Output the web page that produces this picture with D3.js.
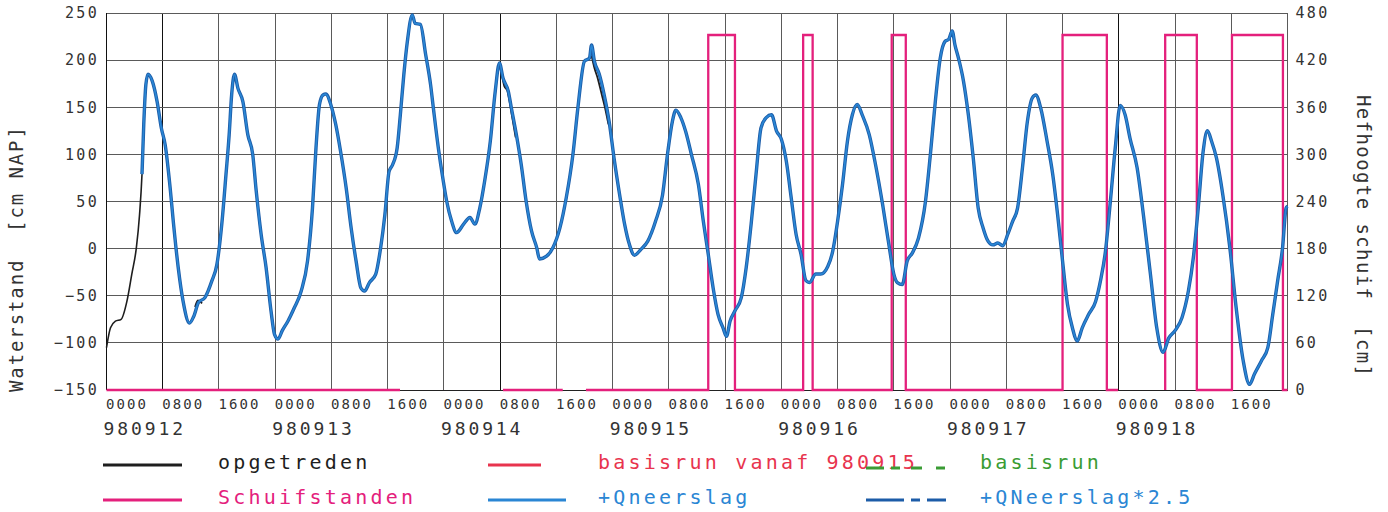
<!DOCTYPE html>
<html>
<head>
<meta charset="utf-8">
<script src="https://cdn.jsdelivr.net/npm/d3@7"></script>
<style>
  body { margin: 0; background: #fff; }
  text { font-family: "DejaVu Sans Mono", monospace; }
</style>
</head>
<body>
<div id="chart"></div>
<script>
// Waterstand + schuifstanden, 980912 - 980918

// tijd in uren vanaf 980912 0000
const dagLabels = ["980912", "980913", "980914", "980915", "980916", "980917", "980918"];
const uurTicks = d3.range(0, 168, 8);
const waterTicks = d3.range(-150, 251, 50);
const schuifTicks = d3.range(0, 481, 60);
const donkereLijnen = [0, 8, 56, 144];

// opgetreden waterstand [cm NAP]
const waterstand = [
  [0,-105],[0.57,-84],[1.27,-77],[2.08,-75],[2.9,-56],[3.6,-27],[4.25,1],[4.7,36],[5.05,79],
  [5.3,132],[5.6,174],[5.9,185],[6.5,178],[7.2,156],[7.8,128],[8.35,110],[9.06,64],[9.5,29],
  [10.2,-20],[10.9,-56],[11.8,-79],[12.4,-72],[13.1,-57],[14.0,-52],[15.0,-34],[15.7,-17],
  [16.4,26],[17.0,79],[17.45,121],[17.8,163],[18.2,185],[18.7,170],[19.4,156],[20.1,121],
  [20.8,100],[21.3,61],[22.0,15],[22.7,-20],[23.4,-66],[23.9,-91],[24.4,-96],[25.0,-87],
  [25.8,-77],[26.7,-63],[27.7,-45],[28.6,-13],[29.3,43],[29.8,107],[30.3,153],[30.8,163],
  [31.2,164],[31.9,153],[32.6,132],[33.3,103],[34.1,64],[34.8,22],[35.5,-13],[36.2,-42],
  [36.7,-45],[37.4,-36],[38.3,-27],[39.0,1],[39.6,36],[40.2,82],[40.7,89],[41.35,107],
  [41.8,142],[42.3,185],[42.8,220],[43.5,248],[43.9,239],[44.65,238],[45.4,206],[46.1,174],
  [46.5,149],[47.2,107],[47.9,72],[48.4,50],[49.1,29],[49.8,17],[50.8,26],[51.7,33],
  [52.4,26],[53.1,43],[53.8,72],[54.6,114],[55.3,167],[55.9,197],[56.4,181],[57.15,167],
  [57.6,149],[58.3,121],[59.0,89],[59.7,50],[60.45,19],[61.2,1],[61.6,-11],[62.6,-8],
  [63.5,1],[64.5,22],[65.4,54],[66.35,100],[67.05,149],[68.0,199],[68.7,202],[69.0,216],
  [69.4,199],[70.1,185],[70.8,163],[71.5,135],[72.2,96],[73.0,57],[73.7,26],[74.4,4],
  [75.1,-7],[76.0,-1],[77.0,8],[78.1,29],[79.1,57],[79.8,100],[80.5,135],[81.0,147],
  [81.7,139],[82.4,124],[83.2,100],[84.2,68],[84.9,29],[85.6,-6],[86.3,-42],[87.0,-70],
  [87.7,-84],[88.2,-93],[88.7,-77],[89.4,-66],[90.3,-52],[91.0,-20],[91.7,26],[92.4,79],
  [93.1,128],[93.85,139],[94.6,142],[95.3,125],[96.0,116],[96.7,93],[97.4,54],[98.1,15],
  [98.8,-6],[99.5,-34],[100.0,-36],[100.9,-27],[101.6,-27],[102.6,-19],[103.3,-3],[104.0,29],
  [104.7,68],[105.4,114],[106.1,142],[106.8,153],[107.5,142],[108.5,121],[109.4,89],[110.4,47],
  [111.3,4],[112.0,-27],[112.5,-36],[113.2,-38],[113.9,-13],[114.6,-5],[115.5,11],[116.5,50],
  [117.2,100],[117.9,156],[118.6,202],[119.3,220],[119.8,222],[120.3,231],[120.7,216],[121.2,202],
  [121.9,178],[122.6,142],[123.3,96],[124.0,43],[124.7,22],[125.4,8],[126.1,4],[126.8,6],
  [127.5,3],[128.2,15],[128.9,29],[129.6,43],[130.3,86],[131.0,135],[131.7,160],[132.2,163],
  [132.9,149],[133.8,114],[134.6,79],[135.3,36],[136.0,-13],[136.7,-59],[137.4,-84],[138.1,-98],
  [138.8,-84],[139.7,-70],[140.7,-56],[141.4,-34],[142.1,-3],[142.8,50],[143.5,107],[144.2,152],
  [144.9,142],[145.6,117],[146.6,86],[147.5,36],[148.5,-27],[149.4,-84],[150.3,-110],[151.1,-95],
  [152.0,-87],[153.0,-73],[153.9,-45],[154.6,-10],[155.3,43],[156.0,103],[156.6,125],[157.2,114],
  [157.9,96],[158.8,57],[159.8,1],[160.7,-63],[161.7,-119],[162.6,-144],[163.3,-133],[164.3,-119],
  [165.2,-105],[165.9,-70],[166.6,-34],[167.3,1],[167.8,43],[168,45]
];

// stukjes waar de opgetreden lijn naast de modellijn zichtbaar is
const opgetredenAfwijking = [
  [[12.6,-62],[13.0,-55],[13.6,-58]],
  [[56.2,188],[56.6,172],[57.0,168],[57.3,158],[57.7,140],[58.2,118]],
  [[69.0,205],[69.4,192],[69.9,180],[70.4,165],[70.9,150],[71.4,132]]
];

// Schuifstanden, hefhoogte [cm], null = geen gegevens
const schuifstand = [
  [0,0],[41.75,0],[48,null],[56.4,0],[64.9,0],[66,null],[68.2,0],[85.6,0],[85.6,452],[89.4,452],
  [89.4,0],[99.1,0],[99.1,452],[100.45,452],[100.45,0],[111.7,0],[111.7,452],[113.7,452],
  [113.7,0],[136.0,0],[136.0,452],[142.3,452],[142.3,0],[143.9,0],[147,null],[150.6,0],
  [150.6,452],[155.1,452],[155.1,0],[160.1,0],[160.1,452],[167.35,452],[167.35,0],[168,0]
];

const width = 1388, height = 512;
const plot = {left: 106.5, right: 1287.5, top: 13, bottom: 390};

const colBlack = "#1e1e1e";
const colSchuif = "#e4207c";
const colBlue = "#2a86d4";
const colDarkBlue = "#1c5ca8";
const colRed = "#e8344e";
const colGreen = "#3a9c34";
const colGrid = "#5a5a5a";
const colText = "#333";

const svg = d3.select("#chart").append("svg")
  .attr("width", width)
  .attr("height", height);

svg.append("rect").attr("width", width).attr("height", height).attr("fill", "#fff");

const x = d3.scaleLinear().domain([0, 168]).range([plot.left, plot.right]);
const yL = d3.scaleLinear().domain([-150, 250]).range([plot.bottom, plot.top]);
const yR = d3.scaleLinear().domain([0, 480]).range([plot.bottom, plot.top]);

// grid
const grid = svg.append("g").attr("shape-rendering", "crispEdges");
grid.selectAll("line.v")
  .data(d3.range(0, 169, 8))
  .enter()
  .append("line")
  .attr("class", "v")
  .attr("x1", d => x(d)).attr("x2", d => x(d))
  .attr("y1", plot.top).attr("y2", plot.bottom)
  .attr("stroke", d => donkereLijnen.includes(d) ? "#111" : colGrid)
  .attr("stroke-width", 1);

grid.selectAll("line.h")
  .data(waterTicks)
  .enter()
  .append("line")
  .attr("class", "h")
  .attr("x1", plot.left).attr("x2", plot.right)
  .attr("y1", d => yL(d)).attr("y2", d => yL(d))
  .attr("stroke", d => d === -150 ? "#222" : colGrid)
  .attr("stroke-width", 1);

// x labels
const axX = svg.append("g")
  .attr("transform", `translate(0,${plot.bottom})`)
  .call(d3.axisBottom(x).tickValues(uurTicks).tickSize(0)
    .tickFormat(d => d3.format("02d")(d % 24) + "00"));
axX.select(".domain").remove();
axX.selectAll("text")
  .attr("y", 19).attr("dy", 0).attr("dx", -1)
  .attr("text-anchor", "start")
  .style("font-size", "14px")
  .style("letter-spacing", "2.1px")
  .attr("fill", colText);

svg.append("g").selectAll("text")
  .data(dagLabels)
  .enter()
  .append("text")
  .attr("x", (d, i) => x(i * 24) - 3)
  .attr("y", 435)
  .style("font-size", "18px")
  .style("letter-spacing", "2.9px")
  .attr("fill", colText)
  .text(d => d);

// y labels links
const axL = svg.append("g")
  .attr("transform", `translate(${plot.left},0)`)
  .call(d3.axisLeft(yL).tickValues(waterTicks).tickSize(0).tickPadding(7.5));
axL.select(".domain").remove();
axL.selectAll("text")
  .style("font-size", "15px")
  .style("letter-spacing", "2.3px")
  .attr("fill", colText);

// y labels rechts
const axR = svg.append("g")
  .attr("transform", `translate(${plot.right},0)`)
  .call(d3.axisRight(yR).tickValues(schuifTicks).tickSize(0).tickPadding(8));
axR.select(".domain").remove();
axR.selectAll("text")
  .style("font-size", "15px")
  .style("letter-spacing", "2.3px")
  .attr("fill", colText);

// as titels
svg.append("text")
  .attr("transform", "translate(23,392) rotate(-90)")
  .style("font-size", "19px")
  .style("letter-spacing", "1.9px")
  .style("white-space", "pre")
  .attr("fill", colText)
  .text("Waterstand  [cm NAP]");

svg.append("text")
  .attr("transform", "translate(1357,95) rotate(90)")
  .style("font-size", "19px")
  .style("letter-spacing", "1.4px")
  .style("white-space", "pre")
  .attr("fill", colText)
  .text("Hefhoogte schuif  [cm]");

// lijnen
const lineL = d3.line().curve(d3.curveMonotoneX).x(d => x(d[0])).y(d => yL(d[1]));
const lineR = d3.line().defined(d => d[1] !== null).x(d => x(d[0])).y(d => yR(d[1]));

svg.append("path")
  .datum(schuifstand)
  .attr("d", lineR)
  .attr("fill", "none")
  .attr("stroke", colSchuif)
  .attr("stroke-width", 2.3);

svg.append("path")
  .datum(waterstand)
  .attr("d", lineL)
  .attr("fill", "none")
  .attr("stroke", colBlack)
  .attr("stroke-width", 1.6);

svg.append("g").selectAll("path")
  .data(opgetredenAfwijking)
  .enter()
  .append("path")
  .attr("d", lineL)
  .attr("fill", "none")
  .attr("stroke", colBlack)
  .attr("stroke-width", 1.8);

const model = waterstand.filter(d => d[0] >= 5.05);

svg.append("path")
  .datum(model)
  .attr("d", lineL)
  .attr("fill", "none")
  .attr("stroke", colDarkBlue)
  .attr("stroke-width", 3.4)
  .attr("stroke-linejoin", "round");

svg.append("path")
  .datum(model)
  .attr("d", lineL)
  .attr("fill", "none")
  .attr("stroke", colBlue)
  .attr("stroke-width", 1.7)
  .attr("stroke-linejoin", "round");

// legenda
const legend = [
  {name: "opgetreden", color: colBlack, textColor: colBlack, col: 0, len: 79, row: 0, dash: null},
  {name: "basisrun vanaf 980915", color: colRed, textColor: colRed, col: 1, len: 53, row: 0, dash: null},
  {name: "basisrun", color: colGreen, textColor: colGreen, col: 2, len: 80, row: 0, dash: "18,7,9,11,11,14,9"},
  {name: "Schuifstanden", color: colSchuif, textColor: colSchuif, col: 0, len: 79, row: 1, dash: null},
  {name: "+Qneerslag", color: colBlue, textColor: colBlue, col: 1, len: 78, row: 1, dash: null},
  {name: "+QNeerslag*2.5", color: colDarkBlue, textColor: colBlue, col: 2, len: 80, row: 1, dash: "38,7,9,7,19"}
];
const lineX = [103, 488, 866];
const textX = [218, 598, 980];

const lg = svg.append("g").selectAll("g")
  .data(legend)
  .enter()
  .append("g")
  .attr("transform", d => `translate(0,${d.row === 0 ? 465 : 500})`);

lg.append("line")
  .attr("x1", d => lineX[d.col])
  .attr("x2", d => lineX[d.col] + d.len)
  .attr("y1", d => d.dash && d.row === 0 ? 3 : 0)
  .attr("y2", d => d.dash && d.row === 0 ? 3 : 0)
  .attr("stroke", d => d.color)
  .attr("stroke-width", 3)
  .attr("stroke-dasharray", d => d.dash);

lg.append("text")
  .attr("x", d => textX[d.col])
  .attr("y", 4)
  .style("font-size", "20px")
  .style("letter-spacing", "3.2px")
  .attr("fill", d => d.textColor)
  .text(d => d.name);
</script>
</body>
</html>
